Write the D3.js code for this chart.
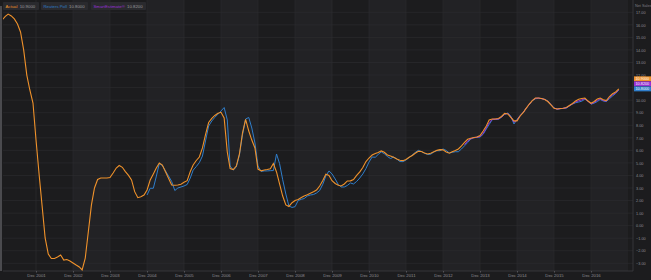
<!DOCTYPE html>
<html>
<head>
<meta charset="utf-8">
<script src="https://cdn.jsdelivr.net/npm/d3@7"></script>
<style>
  body { margin: 0; background: #1c1c1e; }
  svg { display: block; font-family: Arial, "Liberation Sans", sans-serif; }
</style>
</head>
<body>
<div id="chart"></div>
<script>
// monthly values, first month given by the *Start string
var actualStart = "2001-01";
var actualValues = [
  16.39, 16.67, 16.86, 16.71, 16.47, 16.07, 15.43, 14.00, 12.00, 10.81, 9.77, 6.82,
  4.04, 1.41, -0.98, -2.26, -2.62, -2.62, -2.50, -2.34, -2.74, -2.70, -2.82, -2.98,
  -3.14, -3.29, -3.53, -2.58, -0.51, 1.65, 3.00, 3.68, 3.80, 3.80, 3.80, 3.84,
  4.20, 4.59, 4.79, 4.65, 4.30, 4.00, 3.64, 2.71, 2.23, 2.31, 2.44, 2.84,
  3.64, 4.12, 4.57, 4.99, 4.83, 4.30, 3.77, 3.24, 3.22, 3.24, 3.30, 3.45,
  3.58, 4.32, 4.83, 5.19, 5.47, 6.19, 7.26, 8.22, 8.55, 8.78, 8.96, 9.03,
  8.58, 5.87, 4.55, 4.47, 4.75, 5.71, 7.38, 8.46, 7.54, 6.82, 6.19, 4.51,
  4.37, 4.43, 4.47, 4.53, 4.95, 4.28, 3.32, 2.36, 1.65, 1.53, 1.83, 2.00,
  2.08, 2.24, 2.36, 2.46, 2.58, 2.70, 2.84, 3.16, 3.60, 4.10, 4.00, 3.58,
  3.36, 3.22, 3.16, 3.32, 3.56, 3.57, 3.68, 4.00, 4.28, 4.63, 5.11, 5.39,
  5.63, 5.75, 5.82, 5.95, 5.85, 5.63, 5.55, 5.45, 5.31, 5.21, 5.18, 5.27,
  5.45, 5.59, 5.77, 5.92, 5.91, 5.79, 5.71, 5.77, 5.89, 6.00, 6.06, 6.04,
  5.87, 5.77, 5.88, 5.98, 6.11, 6.35, 6.63, 6.88, 6.97, 7.02, 7.06, 7.18,
  7.54, 7.94, 8.42, 8.50, 8.50, 8.54, 8.70, 8.94, 8.90, 8.62, 8.35, 8.35,
  8.74, 9.02, 9.34, 9.69, 9.97, 10.17, 10.17, 10.13, 10.05, 9.89, 9.63, 9.35,
  9.30, 9.33, 9.36, 9.41, 9.57, 9.73, 9.93, 10.07, 10.13, 10.17, 9.93, 9.75,
  9.89, 10.09, 10.17, 10.03, 9.97, 10.29, 10.51, 10.65, 10.90
];

var pollStart = "2004-12";
var pollValues = [
  2.44,
  2.98, 2.98, 3.88, 4.95, 4.79, 4.36, 3.96, 3.52, 2.80, 3.00, 3.08, 3.16,
  3.28, 3.80, 4.42, 4.71, 5.02, 5.55, 6.75, 7.94, 8.34, 8.63, 8.88, 9.14,
  9.41, 8.42, 4.75, 4.43, 4.67, 5.63, 7.22, 8.50, 8.62, 7.78, 6.59, 4.75,
  4.32, 4.36, 4.36, 4.38, 4.39, 5.71, 4.95, 3.66, 2.52, 1.57, 1.45, 1.51,
  2.00, 2.10, 2.16, 2.36, 2.44, 2.48, 2.60, 2.80, 3.30, 3.96, 4.36, 4.12,
  3.72, 3.28, 3.08, 3.08, 3.20, 3.40, 3.32, 3.52, 3.80, 4.12, 4.55, 5.07,
  5.47, 5.45, 5.67, 5.87, 5.73, 5.51, 5.35, 5.47, 5.31, 5.11, 5.10, 5.23,
  5.43, 5.63, 5.83, 6.00, 5.91, 5.77, 5.67, 5.69, 5.87, 5.97, 5.97, 6.11,
  5.99, 5.79, 5.84, 5.89, 5.89, 6.11, 6.36, 6.63, 6.90, 7.00, 7.04, 7.06,
  7.28, 7.70, 8.06, 8.45, 8.47, 8.47, 8.64, 8.86, 8.98, 8.72, 8.10, 8.46,
  8.78, 9.02, 9.37, 9.64, 9.97, 10.11, 10.15, 10.12, 10.06, 9.93, 9.65, 9.39,
  9.28, 9.32, 9.34, 9.37, 9.53, 9.69, 9.79, 9.85, 9.92, 10.08, 9.93, 9.68,
  9.76, 9.89, 10.05, 9.93, 9.89, 10.12, 10.33, 10.53, 10.80
];

var smartStart = "2013-07";
var smartValues = [
  6.45, 6.75, 6.93, 7.01, 7.05, 7.10,
  7.35, 7.80, 8.20, 8.47, 8.48, 8.50, 8.66, 8.90, 8.94, 8.66, 8.25, 8.40,
  8.76, 9.02, 9.35, 9.66, 9.97, 10.14, 10.16, 10.12, 10.05, 9.91, 9.64, 9.37,
  9.29, 9.32, 9.35, 9.39, 9.55, 9.71, 9.85, 9.95, 10.02, 10.12, 9.90, 9.70,
  9.82, 9.98, 10.10, 9.97, 9.92, 10.20, 10.42, 10.58, 10.82
];

var seriesNames = ["Actual", "Reuters Poll", "SmartEstimate\u00ae"];
var lastLabels = ["10.9000", "10.8000", "10.8200"];
var yTicks = [17, 16, 15, 14, 13, 12, 11, 10, 9, 8, 7, 6, 5, 4, 3, 2, 1, 0, -1, -2, -3];
// 11.00 sits under the last-value badges, so it gets no label
var yLabelTicks = [17, 16, 15, 14, 13, 12, 10, 9, 8, 7, 6, 5, 4, 3, 2, 1, 0, -1, -2, -3];
var xTickYears = [2001, 2002, 2003, 2004, 2005, 2006, 2007, 2008, 2009, 2010, 2011, 2012, 2013, 2014, 2015, 2016];

var colors = { actual: "#f0922b", poll: "#2f7ecb", smart: "#9a2fd4" };

var width = 651, height = 280;
var plot = { left: 3, right: 633, top: 0, bottom: 271 };

var parseMonth = d3.timeParse("%Y-%m");
function toSeries(start, values) {
  var s = parseMonth(start);
  return values.map(function (v, i) {
    return { date: d3.timeMonth.offset(s, i), value: v };
  });
}
var actual = toSeries(actualStart, actualValues);
var poll = toSeries(pollStart, pollValues);
var smart = toSeries(smartStart, smartValues);

var svg = d3.select("#chart").append("svg")
  .attr("width", width)
  .attr("height", height);

svg.append("rect").attr("width", width).attr("height", height).attr("fill", "#1c1c1e");

var x = d3.scaleTime()
  .domain([new Date(2001, 0, 9), new Date(2018, 0, 19)])
  .range([plot.left, plot.right]);

var y = d3.scaleLinear()
  .domain([-3, 17])
  .range([263.3, 12.3]);

var xTicks = xTickYears.map(function (yr) { return new Date(yr, 11, 1); });

// alternating year bands
var bands = xTicks.filter(function (d, i) { return i % 2 === 1; });
svg.append("g").selectAll("rect").data(bands).enter().append("rect")
  .attr("x", function (d) { return x(d); })
  .attr("y", plot.top)
  .attr("width", function (d) {
    return Math.min(x(d3.timeYear.offset(d, 1)), plot.right) - x(d);
  })
  .attr("height", plot.bottom - plot.top)
  .attr("fill", "#222225");

// grid
var grid = svg.append("g").attr("stroke", "#2d2d31").attr("stroke-width", 0.6);
grid.selectAll("line.h").data(yTicks).enter().append("line")
  .attr("class", "h")
  .attr("x1", plot.left).attr("x2", plot.right)
  .attr("y1", function (d) { return y(d); })
  .attr("y2", function (d) { return y(d); });
grid.selectAll("line.v").data(xTicks).enter().append("line")
  .attr("class", "v")
  .attr("x1", function (d) { return x(d); })
  .attr("x2", function (d) { return x(d); })
  .attr("y1", plot.top).attr("y2", plot.bottom);

// borders
svg.append("rect").attr("x", 0).attr("y", 6).attr("width", 2).attr("height", plot.bottom - 6).attr("fill", "#4a4a4e");
svg.append("line").attr("x1", plot.left).attr("x2", plot.right)
  .attr("y1", plot.bottom).attr("y2", plot.bottom)
  .attr("stroke", "#3c3c40").attr("stroke-width", 0.8);
svg.append("line").attr("x1", plot.right).attr("x2", plot.right)
  .attr("y1", plot.top).attr("y2", plot.bottom)
  .attr("stroke", "#3c3c40").attr("stroke-width", 0.8);

// lines
svg.append("clipPath").attr("id", "clip").append("rect")
  .attr("x", plot.left).attr("y", plot.top)
  .attr("width", plot.right - plot.left).attr("height", plot.bottom - plot.top);

var line = d3.line()
  .x(function (d) { return x(d.date); })
  .y(function (d) { return y(d.value); });

var lines = svg.append("g").attr("clip-path", "url(#clip)").attr("fill", "none");
lines.append("path").datum(poll).attr("d", line).attr("stroke", colors.poll).attr("stroke-width", 1);
lines.append("path").datum(smart).attr("d", line).attr("stroke", colors.smart).attr("stroke-width", 1);
lines.append("path").datum(actual).attr("d", line).attr("stroke", colors.actual).attr("stroke-width", 1.1);

// x axis
var xAxis = d3.axisBottom(x)
  .tickValues(xTicks)
  .tickSize(1.5)
  .tickPadding(1.5)
  .tickFormat(d3.timeFormat("%b %Y"));
var gx = svg.append("g").attr("transform", "translate(0," + plot.bottom + ")").call(xAxis);
gx.select(".domain").remove();
gx.selectAll("line").attr("stroke", "#55555a");
gx.selectAll("text").attr("fill", "#8e8e93").style("font-size", "4.3px");

// y axis (right)
var yAxis = d3.axisRight(y)
  .tickValues(yLabelTicks)
  .tickSize(0)
  .tickPadding(3)
  .tickFormat(d3.format(".2f"));
var gy = svg.append("g").attr("transform", "translate(" + plot.right + ",0)").call(yAxis);
gy.select(".domain").remove();
gy.selectAll("text").attr("fill", "#8e8e93").style("font-size", "3.8px");

svg.append("text").attr("x", plot.right + 2).attr("y", 6.5)
  .attr("fill", "#7c7c82").style("font-size", "3.8px").text("Net Sales");

// last value badges
var badgeColors = [colors.actual, colors.smart, colors.poll];
var badgeLabels = [lastLabels[0], lastLabels[2], lastLabels[1]];
var badgeTop = y(actualValues[actualValues.length - 1]) - 12.5;
var badges = svg.append("g").selectAll("g").data(badgeLabels).enter().append("g")
  .attr("transform", function (d, i) { return "translate(" + (plot.right + 1) + "," + (badgeTop + i * 5) + ")"; });
badges.append("rect").attr("width", width - plot.right - 1).attr("height", 5)
  .attr("fill", function (d, i) { return badgeColors[i]; });
badges.append("text").attr("x", 1.5).attr("y", 3.8)
  .attr("fill", "#f4f4f4").style("font-size", "3.8px").text(function (d) { return d; });

// legend
var legendColors = [colors.actual, colors.poll, colors.smart];
var legendX = [3, 41, 91];
var legendW = [36, 47, 55];
var legend = svg.append("g").selectAll("g").data(seriesNames).enter().append("g")
  .attr("transform", function (d, i) { return "translate(" + legendX[i] + ",2)"; });
legend.append("rect").attr("width", function (d, i) { return legendW[i]; }).attr("height", 8)
  .attr("rx", 0.8).attr("fill", "#2a2a2e");
legend.append("text").attr("x", 2.5).attr("y", 5.6)
  .style("font-size", "4.3px")
  .each(function (d, i) {
    var t = d3.select(this);
    t.append("tspan").attr("fill", legendColors[i]).text(d);
    t.append("tspan").attr("fill", "#9a9a9f").attr("dx", 2.2).text(lastLabels[i]);
  });
</script>
</body>
</html>
